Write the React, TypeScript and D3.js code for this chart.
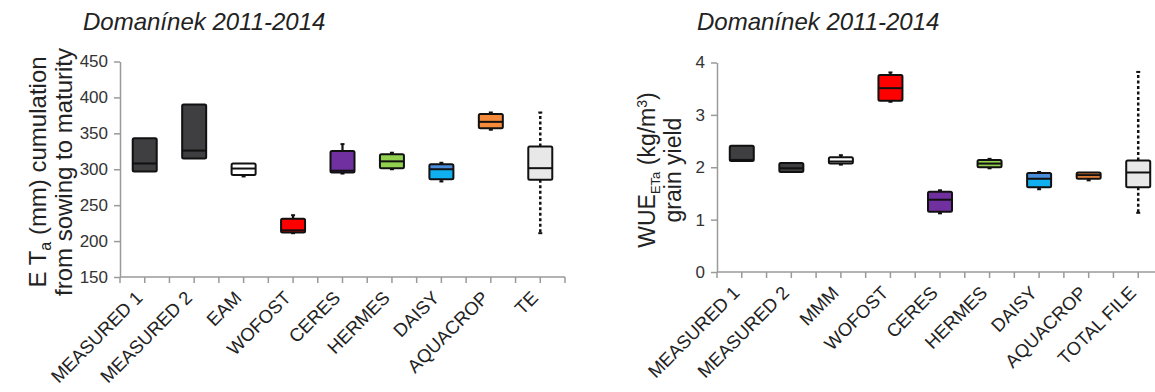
import React, { useEffect, useRef } from 'react';
import * as d3 from 'd3';

// ET_a cumulation (mm), Domanínek 2011-2014
const etCategories = ['MEASURED 1', 'MEASURED 2', 'EAM', 'WOFOST', 'CERES', 'HERMES', 'DAISY', 'AQUACROP', 'TE'];
const etMin = [297, 315, 290, 211, 294, 300, 283, 355, 211];
const etQ1 = [297, 315, 292, 212, 295.5, 301.5, 286, 357, 285.5];
const etMedian = [308, 326, 301, 215, 298, 311, 300, 366, 301.5];
const etQ3 = [343, 390, 308, 231, 325.5, 321, 307, 377, 331.5];
const etMax = [343, 390, 308, 236, 335, 323, 309, 379, 379];
const etTicks = [150, 200, 250, 300, 350, 400, 450];

// WUE (kg/m3) grain yield
const wueCategories = ['MEASURED 1', 'MEASURED 2', 'MMM', 'WOFOST', 'CERES', 'HERMES', 'DAISY', 'AQUACROP', 'TOTAL FILE'];
const wueMin = [2.12, 1.91, 2.05, 3.25, 1.12, 1.98, 1.58, 1.75, 1.13];
const wueQ1 = [2.12, 1.91, 2.07, 3.27, 1.15, 2.0, 1.62, 1.78, 1.62];
const wueMedian = [2.14, 1.98, 2.11, 3.51, 1.38, 2.07, 1.78, 1.85, 1.9];
const wueQ3 = [2.41, 2.08, 2.19, 3.76, 1.53, 2.14, 1.89, 1.9, 2.13];
const wueMax = [2.41, 2.08, 2.23, 3.81, 1.56, 2.16, 1.91, 1.9, 3.82];
const wueTicks = [0, 1, 2, 3, 4];

// box colours (upper half / lower half)
const upperFill = ['#3f3f41', '#3f3f41', '#ffffff', '#ff0000', '#7030a0', '#92d050', '#4a8ddb', '#f58a3a', '#e8e8e8'];
const lowerFill = ['#3f3f41', '#3f3f41', '#ffffff', '#ff0000', '#7030a0', '#92d050', '#10b0f0', '#f58a3a', '#e8e8e8'];

const FONT = 'Arial, "Liberation Sans", Helvetica, sans-serif';

const drawPanel = (svg, p) => {
  const g = svg.append('g');
  const x = d3.scaleBand().domain(p.categories).range([p.left, p.right]);
  const y = d3.scaleLinear().domain(p.domain).range([p.bottom, p.top]);
  const bw = x.bandwidth();

  // title
  g.append('text')
    .attr('x', p.titleX)
    .attr('y', 30)
    .style('font-family', FONT)
    .style('font-size', '24px')
    .style('font-style', 'italic')
    .attr('fill', '#222')
    .text('Domanínek 2011-2014');

  // y axis
  g.append('g')
    .attr('transform', `translate(${p.left},0)`)
    .call(d3.axisLeft(y).tickValues(p.ticks).tickFormat(d3.format('d')).tickSize(6).tickSizeOuter(0).tickPadding(6))
    .call(a => a.select('.domain').attr('stroke', '#9a9a9a').attr('stroke-width', 1.5))
    .call(a => a.selectAll('.tick line').attr('stroke', '#9a9a9a').attr('stroke-width', 1.5))
    .call(a => a.selectAll('.tick text')
      .attr('fill', '#333')
      .style('font-family', FONT)
      .style('font-size', '17px'));

  // x axis with ticks at every half category
  g.append('line')
    .attr('x1', p.left).attr('x2', p.right)
    .attr('y1', p.bottom).attr('y2', p.bottom)
    .attr('stroke', '#9a9a9a').attr('stroke-width', 1.5);

  const tickPos = [];
  p.categories.forEach(c => {
    tickPos.push(x(c));
    tickPos.push(x(c) + bw / 2);
  });
  tickPos.push(p.right);
  g.selectAll('.xtick')
    .data(tickPos)
    .enter()
    .append('line')
    .attr('x1', d => d).attr('x2', d => d)
    .attr('y1', p.bottom).attr('y2', p.bottom + 6)
    .attr('stroke', '#9a9a9a').attr('stroke-width', 1.5);

  g.selectAll('.xlabel')
    .data(p.categories)
    .enter()
    .append('text')
    .attr('transform', d => `translate(${x(d) + bw / 2 - 1},${p.bottom + 22}) rotate(-45)`)
    .attr('text-anchor', 'end')
    .style('font-family', FONT)
    .style('font-size', '18.5px')
    .attr('fill', '#222')
    .text(d => d);

  // boxes
  const boxW = 24;
  p.categories.forEach((c, i) => {
    const cx = x(c) + bw / 2;
    const last = i === p.categories.length - 1;
    const wStroke = last ? 2.5 : 2.2;
    const dash = last ? '3,2.5' : null;

    if (p.maxs[i] > p.q3s[i]) {
      g.append('line')
        .attr('x1', cx).attr('x2', cx)
        .attr('y1', y(p.q3s[i])).attr('y2', y(p.maxs[i]))
        .attr('stroke', '#111').attr('stroke-width', wStroke)
        .attr('stroke-dasharray', dash);
      g.append('line')
        .attr('x1', cx - 2).attr('x2', cx + 2)
        .attr('y1', y(p.maxs[i])).attr('y2', y(p.maxs[i]))
        .attr('stroke', '#111').attr('stroke-width', 2);
    }
    if (p.mins[i] < p.q1s[i]) {
      g.append('line')
        .attr('x1', cx).attr('x2', cx)
        .attr('y1', y(p.q1s[i])).attr('y2', y(p.mins[i]))
        .attr('stroke', '#111').attr('stroke-width', wStroke)
        .attr('stroke-dasharray', dash);
      g.append('line')
        .attr('x1', cx - 2).attr('x2', cx + 2)
        .attr('y1', y(p.mins[i])).attr('y2', y(p.mins[i]))
        .attr('stroke', '#111').attr('stroke-width', 2);
    }

    g.append('rect')
      .attr('x', cx - boxW / 2).attr('width', boxW)
      .attr('y', y(p.q3s[i])).attr('height', y(p.medians[i]) - y(p.q3s[i]))
      .attr('fill', upperFill[i]);
    g.append('rect')
      .attr('x', cx - boxW / 2).attr('width', boxW)
      .attr('y', y(p.medians[i])).attr('height', y(p.q1s[i]) - y(p.medians[i]))
      .attr('fill', lowerFill[i]);
    g.append('rect')
      .attr('x', cx - boxW / 2).attr('width', boxW)
      .attr('y', y(p.q3s[i])).attr('height', y(p.q1s[i]) - y(p.q3s[i]))
      .attr('rx', 1.5)
      .attr('fill', 'none')
      .attr('stroke', '#111').attr('stroke-width', 2);
    g.append('line')
      .attr('x1', cx - boxW / 2).attr('x2', cx + boxW / 2)
      .attr('y1', y(p.medians[i])).attr('y2', y(p.medians[i]))
      .attr('stroke', '#111').attr('stroke-width', 2);
  });

  return { g, y };
};

const App = () => {
  const ref = useRef(null);

  useEffect(() => {
    const svg = d3.select(ref.current);
    svg.selectAll('*').remove();

    const left = drawPanel(svg, {
      categories: etCategories,
      mins: etMin, q1s: etQ1, medians: etMedian, q3s: etQ3, maxs: etMax,
      ticks: etTicks, domain: [150, 450],
      left: 120, right: 565, top: 61.5, bottom: 277, titleX: 83,
    });

    // y label left
    const ly = 172;
    const l1 = left.g.append('text')
      .attr('transform', `translate(46,${ly}) rotate(-90)`)
      .attr('text-anchor', 'middle')
      .style('font-family', FONT).style('font-size', '24px').attr('fill', '#222');
    l1.append('tspan').text('E T');
    l1.append('tspan').attr('dy', 5).style('font-size', '16px').text('a');
    l1.append('tspan').attr('dy', -5).text(' (mm) cumulation');
    left.g.append('text')
      .attr('transform', `translate(72,${ly}) rotate(-90)`)
      .attr('text-anchor', 'middle')
      .style('font-family', FONT).style('font-size', '24px').attr('fill', '#222')
      .text('from sowing to maturity');

    const right = drawPanel(svg, {
      categories: wueCategories,
      mins: wueMin, q1s: wueQ1, medians: wueMedian, q3s: wueQ3, maxs: wueMax,
      ticks: wueTicks, domain: [0, 4],
      left: 717, right: 1163, top: 62.5, bottom: 272, titleX: 697,
    });

    const ry = 170;
    const r1 = right.g.append('text')
      .attr('transform', `translate(655,${ry}) rotate(-90)`)
      .attr('text-anchor', 'middle')
      .style('font-family', FONT).style('font-size', '23px').attr('fill', '#222');
    r1.append('tspan').text('WUE');
    r1.append('tspan').attr('dy', 5).style('font-size', '13px').text('ETa');
    r1.append('tspan').attr('dy', -5).text(' (kg/m');
    r1.append('tspan').attr('dy', -8).style('font-size', '14px').text('3');
    r1.append('tspan').attr('dy', 8).text(')');
    right.g.append('text')
      .attr('transform', `translate(681,${ry}) rotate(-90)`)
      .attr('text-anchor', 'middle')
      .style('font-family', FONT).style('font-size', '23px').attr('fill', '#222')
      .text('grain yield');
  }, []);

  return (
    <div style={{ position: 'absolute', left: 0, top: 0 }}>
      <svg ref={ref} width={1155} height={392} style={{ display: 'block', background: '#fff' }} />
    </div>
  );
};

export default App;
